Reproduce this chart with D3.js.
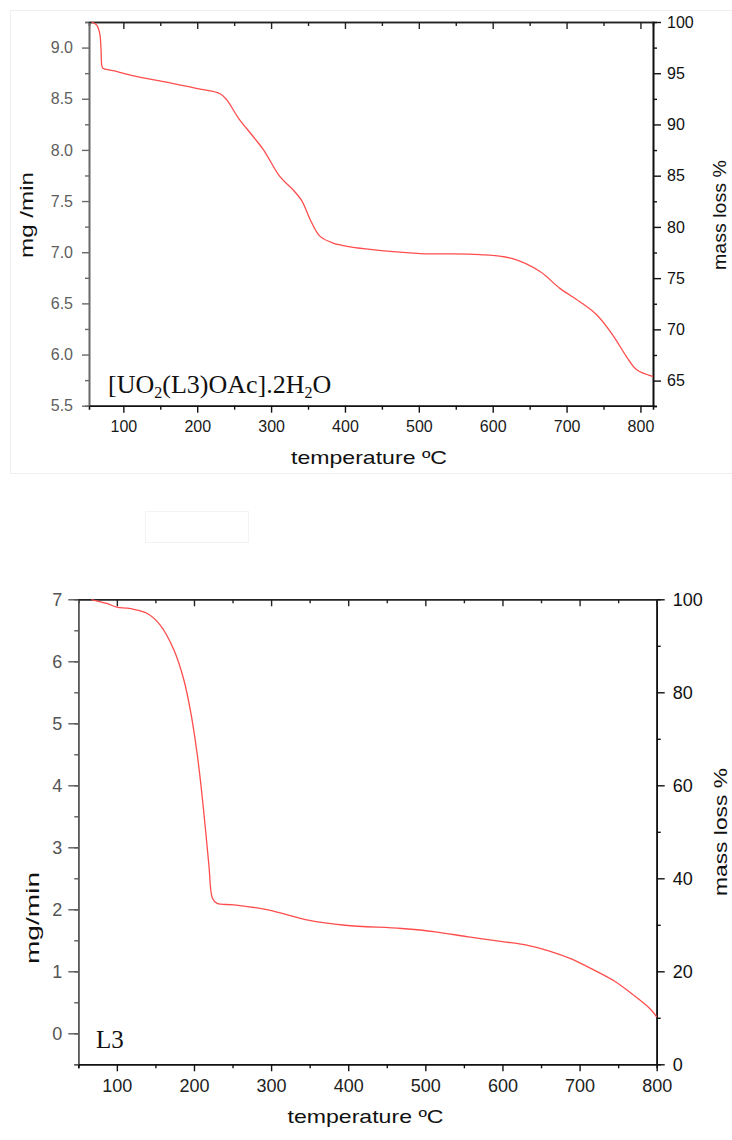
<!DOCTYPE html>
<html>
<head>
  <meta charset="utf-8">
  <script src="https://d3js.org/d3.v7.min.js"></script>
  <style>
    body { margin: 0; background: #fff; }
    svg { display: block; font-family: "Liberation Sans", Arial, sans-serif; }
    .curve { fill: none; stroke: #ff4d4d; stroke-width: 1.3px; }
    .serif { font-family: "Liberation Serif", "Times New Roman", serif; fill: #111; }
  </style>
</head>
<body>
<div id="plot"></div>
<script>
// top panel: [UO2(L3)OAc].2H2O
var topTemp = [57, 64, 68, 69.8, 70.7, 72, 75, 86, 114, 160, 204, 231, 240, 256, 276, 290, 312, 330, 342, 353, 366, 385, 434, 502, 583, 627, 664, 691, 718, 741, 763, 781, 795, 817];
var topMass = [100, 99.7, 98.9, 97.3, 95.8, 95.5, 95.4, 95.25, 94.75, 94.1, 93.45, 93.0, 92.4, 90.6, 88.8, 87.5, 84.9, 83.6, 82.5, 80.7, 79.1, 78.4, 77.8, 77.4, 77.3, 76.9, 75.65, 74.0, 72.7, 71.4, 69.4, 67.35, 66.05, 65.4];
var topLeftTicks = [5.5, 6.0, 6.5, 7.0, 7.5, 8.0, 8.5, 9.0];
var topRightTicks = [65, 70, 75, 80, 85, 90, 95, 100];
var topXTicks = [100, 200, 300, 400, 500, 600, 700, 800];

// bottom panel: L3
var botTemp = [67, 87, 100, 113, 122, 139, 156, 174, 187, 196, 204, 209, 215, 219.5, 224, 230, 252, 296, 348, 396, 469, 513, 556, 600, 630, 660, 690, 717, 745, 769, 791, 800];
var botMass = [99.95, 99.1, 98.3, 98.1, 97.85, 97.0, 94.5, 89.1, 82.6, 75.5, 66.9, 60.1, 50.4, 42.5, 35.7, 34.6, 34.3, 33.2, 31.0, 29.9, 29.2, 28.5, 27.4, 26.4, 25.7, 24.4, 22.6, 20.4, 17.9, 15.0, 12.0, 10.2];
var botLeftTicks = [0, 1, 2, 3, 4, 5, 6, 7];
var botRightTicks = [0, 20, 40, 60, 80, 100];
var botXTicks = [100, 200, 300, 400, 500, 600, 700, 800];

var svg = d3.select('#plot').append('svg')
  .attr('width', 732)
  .attr('height', 1140);

// faint frames left over from the source figure
svg.append('rect').attr('x', 10.5).attr('y', 10.5).attr('width', 740).attr('height', 463)
  .style('fill', 'none').style('stroke', '#efefef');
svg.append('rect').attr('x', 145.5).attr('y', 511.5).attr('width', 103).attr('height', 31)
  .style('fill', 'none').style('stroke', '#f3f3f3');

function range(a, b, step) {
  var out = [];
  for (var v = a; v <= b + 1e-9; v += step) out.push(+v.toFixed(4));
  return out;
}

function panel(cfg) {
  var x = d3.scaleLinear().domain(cfg.xDomain).range([cfg.left, cfg.right]);
  var yL = d3.scaleLinear().domain(cfg.lDomain).range([cfg.bottom, cfg.top]);
  var yR = d3.scaleLinear().domain(cfg.rDomain).range([cfg.bottom, cfg.top]);
  var g = svg.append('g');

  function styleAxis(sel, lineColor, textColor) {
    sel.selectAll('path').style('stroke', lineColor).style('stroke-width', 1.6);
    sel.selectAll('line').style('stroke', lineColor).style('stroke-width', 1.4);
    sel.selectAll('text').style('fill', textColor).style('font-size', cfg.fontSize + 'px')
      .style('font-family', '"Liberation Sans", Arial, sans-serif');
  }

  // minor ticks first
  g.append('g').attr('transform', 'translate(' + cfg.left + ',0)')
    .call(d3.axisLeft(yL).tickValues(cfg.lMinor).tickSize(4).tickFormat(''))
    .call(styleAxis, cfg.leftColor, cfg.leftColor);
  g.append('g').attr('transform', 'translate(' + cfg.right + ',0)')
    .call(d3.axisRight(yR).tickValues(cfg.rMinor).tickSize(4).tickFormat(''))
    .call(styleAxis, '#111', '#111');
  g.append('g').attr('transform', 'translate(0,' + cfg.bottom + ')')
    .call(d3.axisBottom(x).tickValues(cfg.xMinor).tickSize(4).tickFormat(''))
    .call(styleAxis, '#111', '#111');
  g.append('g').attr('transform', 'translate(0,' + cfg.top + ')')
    .call(d3.axisTop(x).tickValues(cfg.xMinor).tickSize(-4).tickFormat(''))
    .call(styleAxis, '#222', '#222');

  // major ticks + labels
  g.append('g').attr('transform', 'translate(' + cfg.left + ',0)')
    .call(d3.axisLeft(yL).tickValues(cfg.lTicks).tickSize(cfg.lTickLen).tickSizeOuter(0)
      .tickPadding(cfg.lPad).tickFormat(d3.format(cfg.lFormat)))
    .call(styleAxis, cfg.leftColor, cfg.leftText);
  g.append('g').attr('transform', 'translate(' + cfg.right + ',0)')
    .call(d3.axisRight(yR).tickValues(cfg.rTicks).tickSize(8).tickSizeOuter(0)
      .tickPadding(cfg.rPad).tickFormat(d3.format('d')))
    .call(styleAxis, '#111', '#111');
  g.append('g').attr('transform', 'translate(0,' + cfg.bottom + ')')
    .call(d3.axisBottom(x).tickValues(cfg.xTicks).tickSize(7).tickSizeOuter(0)
      .tickPadding(cfg.xPad).tickFormat(d3.format('d')))
    .call(styleAxis, '#111', cfg.xText);
  g.append('g').attr('transform', 'translate(0,' + cfg.top + ')')
    .call(d3.axisTop(x).tickValues(cfg.xTicks).tickSize(-7).tickSizeOuter(0).tickFormat(''))
    .call(styleAxis, '#222', '#222');

  // the curve, plotted on the mass loss % axis
  var pts = cfg.temp.map(function(t, i) { return [t, cfg.mass[i]]; });
  var line = d3.line()
    .x(function(d) { return x(d[0]); })
    .y(function(d) { return yR(d[1]); })
    .curve(d3.curveCatmullRom.alpha(0.5));
  g.append('path').datum(pts).attr('class', 'curve').attr('d', line);

  // axis titles
  g.append('text')
    .attr('x', (cfg.left + cfg.right) / 2 - 2)
    .attr('y', cfg.xTitleY)
    .attr('text-anchor', 'middle')
    .attr('textLength', 156).attr('lengthAdjust', 'spacingAndGlyphs')
    .style('font-size', '19px').style('fill', '#111')
    .text('temperature ºC');

  g.append('text')
    .attr('transform', 'translate(' + cfg.lTitle[0] + ',' + cfg.lTitle[1] + ') rotate(-90)')
    .attr('text-anchor', 'middle')
    .attr('textLength', cfg.lTitle[2]).attr('lengthAdjust', 'spacingAndGlyphs')
    .style('font-size', '19px').style('fill', '#111')
    .text(cfg.lTitleText);

  g.append('text')
    .attr('transform', 'translate(' + cfg.rTitle[0] + ',' + cfg.rTitle[1] + ') rotate(-90)')
    .attr('text-anchor', 'middle')
    .attr('textLength', cfg.rTitle[2]).attr('lengthAdjust', 'spacingAndGlyphs')
    .style('font-size', '19px').style('fill', '#111')
    .text('mass loss %');

  return g;
}

var gTop = panel({
  left: 89, right: 653, top: 22, bottom: 405.7,
  xDomain: [53.5, 817], lDomain: [5.5, 9.25], rDomain: [62.55, 100],
  temp: topTemp, mass: topMass,
  lTicks: topLeftTicks, rTicks: topRightTicks, xTicks: topXTicks,
  lMinor: range(5.75, 9.25, 0.5), rMinor: range(62.5, 97.5, 5), xMinor: range(150, 750, 100),
  lFormat: '.1f', lTickLen: 7, lPad: 9, rPad: 6, xPad: 8,
  leftColor: '#6a6a6a', leftText: '#5e5e5e', xText: '#1a1a1a',
  fontSize: 16, xTitleY: 464,
  lTitle: [33, 215, 86], lTitleText: 'mg /min',
  rTitle: [726, 215, 110]
});

// compound label with subscripts
var lab = gTop.append('text').attr('class', 'serif')
  .attr('x', 108).attr('y', 393).style('font-size', '26px');
lab.append('tspan').text('[UO');
lab.append('tspan').attr('dy', 5).style('font-size', '16px').text('2');
lab.append('tspan').attr('dy', -5).text('(L3)OAc].2H');
lab.append('tspan').attr('dy', 5).style('font-size', '16px').text('2');
lab.append('tspan').attr('dy', -5).text('O');

var gBot = panel({
  left: 78.3, right: 656.7, top: 599.3, bottom: 1064.3,
  xDomain: [50, 800], lDomain: [-0.5, 7], rDomain: [0, 100],
  temp: botTemp, mass: botMass,
  lTicks: botLeftTicks, rTicks: botRightTicks, xTicks: botXTicks,
  lMinor: range(-0.5, 6.5, 0.5), rMinor: range(10, 90, 20), xMinor: range(50, 750, 100),
  lFormat: 'd', lTickLen: 10, lPad: 6, rPad: 8, xPad: 8,
  leftColor: '#5a5a5a', leftText: '#555', xText: '#222',
  fontSize: 18, xTitleY: 1123,
  lTitle: [39, 918, 92], lTitleText: 'mg/min',
  rTitle: [727, 832, 128]
});

gBot.append('text').attr('class', 'serif')
  .attr('x', 96).attr('y', 1048).style('font-size', '25px')
  .text('L3');
</script>
</body>
</html>
